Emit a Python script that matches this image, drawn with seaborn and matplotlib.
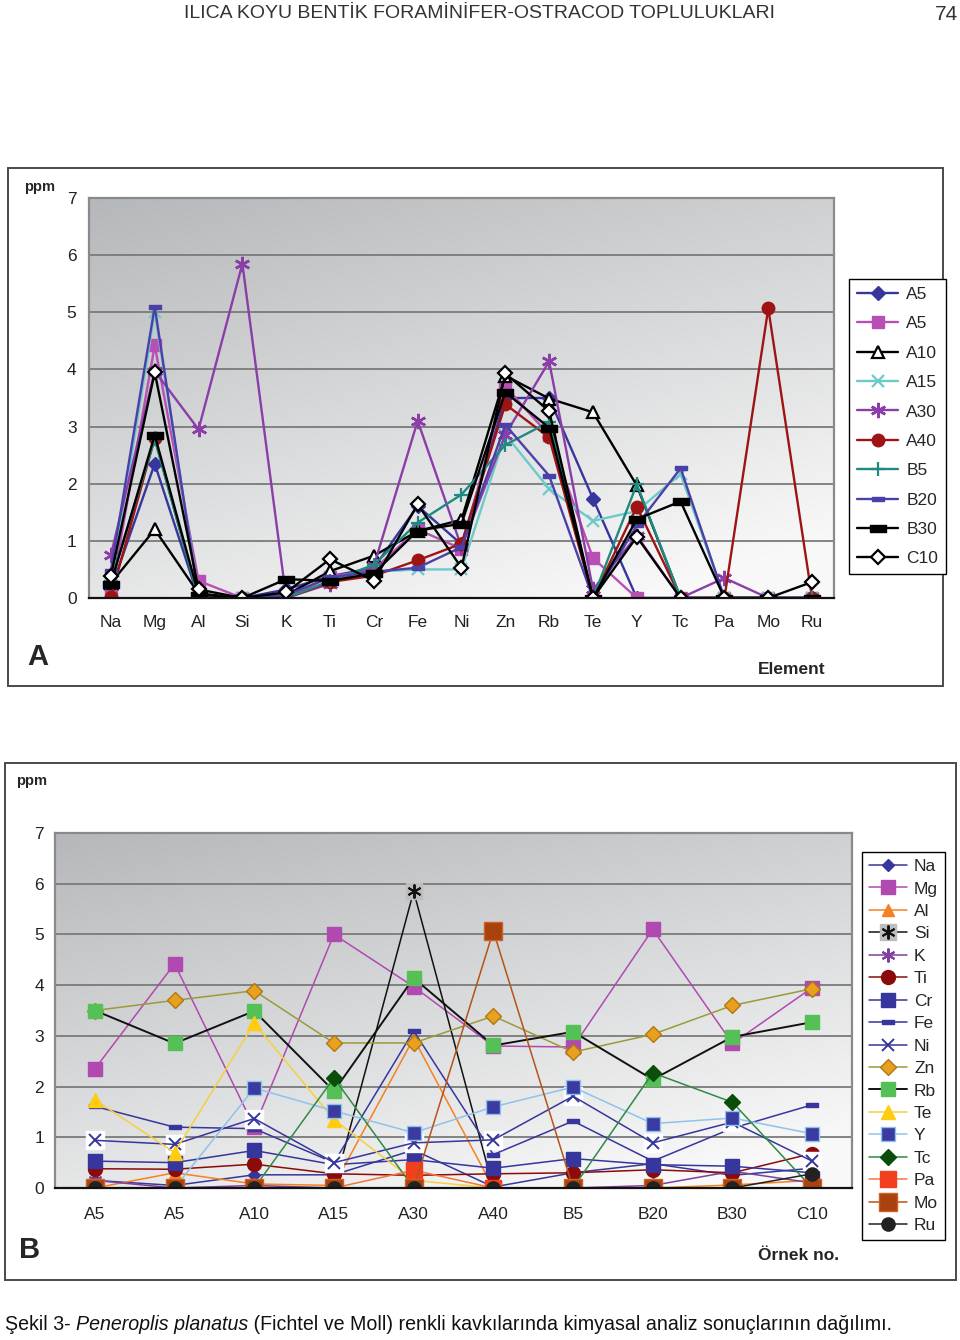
import numpy as np
import pandas as pd
import matplotlib
matplotlib.use("Agg")
import matplotlib.pyplot as plt
import matplotlib.transforms as mtransforms
import seaborn as sns
from matplotlib.lines import Line2D
from matplotlib.patches import Rectangle
from matplotlib.legend_handler import HandlerTuple

sns.set_style("white")
plt.rcParams["font.family"] = ["Liberation Sans", "DejaVu Sans"]

# ---------------- data (ppm) ----------------
samples = ["A5", "A5", "A10", "A15", "A30", "A40", "B5", "B20", "B30", "C10"]
elements = ["Na", "Mg", "Al", "Si", "K", "Ti", "Cr", "Fe", "Ni", "Zn",
            "Rb", "Te", "Y", "Tc", "Pa", "Mo", "Ru"]
yticks = [0, 1, 2, 3, 4, 5, 6, 7]

na = [0.15, 0.05, 0.26, 0.26, 0.75, 0.02, 0.30, 0.48, 0.25, 0.39]
mg = [2.35, 4.42, 1.20, 5.00, 3.97, 2.80, 2.78, 5.10, 2.85, 3.95]
al = [0.00, 0.30, 0.08, 0.05, 2.95, 0.00, 0.00, 0.00, 0.06, 0.15]
si = [0.00, 0.00, 0.00, 0.00, 5.85, 0.00, 0.00, 0.00, 0.00, 0.00]
k = [0.15, 0.00, 0.05, 0.00, 0.00, 0.00, 0.00, 0.05, 0.33, 0.10]
ti = [0.38, 0.37, 0.47, 0.28, 0.25, 0.28, 0.30, 0.36, 0.30, 0.68]
cr = [0.53, 0.50, 0.74, 0.46, 0.56, 0.39, 0.58, 0.46, 0.43, 0.30]
fe = [1.61, 1.20, 1.17, 0.50, 3.10, 0.66, 1.32, 0.53, 1.18, 1.64]
ni = [0.94, 0.86, 1.37, 0.50, 0.89, 0.95, 1.81, 0.89, 1.30, 0.53]
zn = [3.50, 3.70, 3.89, 2.86, 2.86, 3.39, 2.68, 3.03, 3.60, 3.93]
rb = [3.50, 2.85, 3.49, 1.91, 4.14, 2.81, 3.08, 2.14, 2.98, 3.27]
te = [1.74, 0.70, 3.25, 1.35, 0.15, 0.00, 0.00, 0.00, 0.00, 0.00]
y_ = [0.00, 0.00, 1.97, 1.52, 1.09, 1.60, 1.99, 1.27, 1.38, 1.07]
tc = [0.00, 0.00, 0.00, 2.17, 0.00, 0.00, 0.00, 2.27, 1.69, 0.00]
pa = [0.00, 0.00, 0.00, 0.00, 0.35, 0.00, 0.00, 0.00, 0.00, 0.00]
mo = [0.00, 0.00, 0.00, 0.00, 0.00, 5.07, 0.00, 0.00, 0.00, 0.00]
ru = [0.00, 0.00, 0.00, 0.00, 0.00, 0.00, 0.00, 0.00, 0.00, 0.28]

df = pd.DataFrame({"Na": na, "Mg": mg, "Al": al, "Si": si, "K": k, "Ti": ti,
                   "Cr": cr, "Fe": fe, "Ni": ni, "Zn": zn, "Rb": rb, "Te": te,
                   "Y": y_, "Tc": tc, "Pa": pa, "Mo": mo, "Ru": ru})

# ---------------- helpers ----------------
W, H = 960, 1340
fig = plt.figure(figsize=(W / 100, H / 100), dpi=100)


def fx(px):
    return px / W


def fy(py):
    return 1 - py / H


DASH = [(-1, -0.42), (1, -0.42), (1, 0.42), (-1, 0.42), (-1, -0.42)]
ASTER = (6, 2, 0)


def gradient_bg(ax, x0, x1):
    xx, yy = np.meshgrid(np.linspace(0, 1, 300), np.linspace(0, 1, 300))
    d = np.clip(0.72 * yy + 0.38 * (1 - xx) - 0.1, 0, 1)
    dark = np.array([0.71, 0.72, 0.73])
    light = np.array([0.975, 0.975, 0.975])
    img = light[None, None, :] + (dark - light)[None, None, :] * d[..., None]
    ax.imshow(img, extent=(x0, x1, 0, 7), origin="lower", aspect="auto",
              zorder=-5, interpolation="bilinear")


def style_axes(ax, n, labels, lpad, xpad):
    ax.set_xlim(-0.5, n - 0.5)
    ax.set_ylim(0, 7)
    ax.set_yticks(yticks)
    ax.set_xticks(range(n))
    ax.set_xticklabels(labels)
    ax.set_xticks(np.arange(-0.5, n, 1.0), minor=True)
    ax.tick_params(axis="x", which="major", length=0, pad=xpad,
                   labelsize=12.5, labelcolor="#222222")
    ax.tick_params(axis="x", which="minor", length=5, width=1,
                   direction="out", color="#333333")
    ax.tick_params(axis="y", length=0, pad=lpad, labelsize=12.5,
                   labelcolor="#222222")
    ax.yaxis.grid(True, color="#7a7a7a", lw=1.3, zorder=0)
    ax.xaxis.grid(False)
    ax.set_axisbelow(True)
    for s in ["top", "right", "left"]:
        ax.spines[s].set_color("#8a8a8a")
        ax.spines[s].set_linewidth(1.6)
    ax.spines["bottom"].set_color("#111111")
    ax.spines["bottom"].set_linewidth(1.6)
    ax.set_xlabel("")
    ax.set_ylabel("")


def line(ax, x, y, color, marker, ms, mfc=None, mec=None, mew=1.0, lw=1.6,
         z=2, ls="-"):
    sns.lineplot(x=x, y=y, ax=ax, color=color, marker=marker, markersize=ms,
                 markerfacecolor=mfc if mfc is not None else color,
                 markeredgecolor=mec if mec is not None else color,
                 markeredgewidth=mew, linewidth=lw, linestyle=ls,
                 errorbar=None, legend=False, zorder=z)
    return ax.lines[-1]


# ---------------- header ----------------
fig.text(0.5, fy(14), "ILICA KOYU BENTİK FORAMİNİFER-OSTRACOD TOPLULUKLARI",
         ha="center", va="center", fontsize=14, color="#333333")
fig.text(fx(958), fy(14), "74", ha="right", va="center", fontsize=15,
         color="#333333")

# frames
for (x0, y0, x1, y1) in [(8, 168, 943, 686), (5, 763, 956, 1280)]:
    fig.patches.append(Rectangle((fx(x0), fy(y1)), (x1 - x0) / W,
                                 (y1 - y0) / H, transform=fig.transFigure,
                                 fill=False, edgecolor="#4a4a4a", lw=1.4))

# ---------------- chart A ----------------
axA = fig.add_axes([fx(89), fy(598), 745 / W, 400 / H])
gradient_bg(axA, -0.5, len(elements) - 0.5)
xa = np.arange(len(elements))

styleA = [
    dict(color="#36369C", marker="D", ms=7),
    dict(color="#B84FB4", marker="s", ms=8.5),
    dict(color="black", marker="^", ms=8.5, mfc="white", mec="black", mew=1.6),
    dict(color="#6CCACA", marker="x", ms=8, mew=1.6),
    dict(color="#8B3DA8", marker=ASTER, ms=11, mew=1.8),
    dict(color="#9E1414", marker="o", ms=9),
    dict(color="#1F8A80", marker="+", ms=10, mew=1.6),
    dict(color="#4B3FA8", marker=DASH, ms=8),
    dict(color="black", marker=DASH, ms=12),
    dict(color="black", marker="D", ms=7, mfc="white", mec="black", mew=1.6),
]
handlesA = []
for i, st in enumerate(styleA):
    h = line(axA, xa, df.iloc[i].values, st["color"], st["marker"], st["ms"],
             mfc=st.get("mfc"), mec=st.get("mec"), mew=st.get("mew", 1.0),
             lw=1.7, z=2 + i * 0.01)
    handlesA.append(h)
style_axes(axA, len(elements), elements, lpad=9, xpad=12)

legA = fig.legend(handlesA, samples, loc="upper left",
                  bbox_to_anchor=(fx(849), fy(279)),
                  bbox_transform=fig.transFigure, frameon=True, fancybox=False,
                  edgecolor="black", framealpha=1, fontsize=12.5,
                  handlelength=2.4, handletextpad=0.45, labelspacing=0.82,
                  borderpad=0.45, borderaxespad=0)
legA.get_frame().set_linewidth(1.0)

fig.text(fx(40), fy(187), "ppm", ha="center", va="center", fontsize=10.5,
         fontweight="bold")
fig.text(fx(38), fy(657), "A", ha="center", va="center", fontsize=21,
         fontweight="bold")
fig.text(fx(792), fy(670), "Element", ha="center", va="center", fontsize=12.5,
         fontweight="bold")

# ---------------- chart B ----------------
axB = fig.add_axes([fx(55), fy(1188), 797 / W, 355 / H])
gradient_bg(axB, -0.5, len(samples) - 0.5)
xb = np.arange(len(samples))

handlesB = []
lwB = 1.1
h = line(axB, xb, df["Na"], "#36369C", "D", 6.5, lw=lwB, z=2.01); handlesB.append(h)
h = line(axB, xb, df["Mg"], "#B04AB0", "s", 10, lw=lwB, z=2.02); handlesB.append(h)
h = line(axB, xb, df["Al"], "#F58220", "^", 9, lw=lwB, z=2.03); handlesB.append(h)
bg = line(axB, xb, df["Si"], "#111111", "s", 12, mfc="#BDBDBD", mec="#BDBDBD",
          lw=lwB, z=2.04)
fg = line(axB, xb, df["Si"], "#111111", ASTER, 10, mew=1.4, lw=0, z=2.045)
handlesB.append((bg, fg))
h = line(axB, xb, df["K"], "#7E3F9E", ASTER, 10, mew=1.5, lw=lwB, z=2.05); handlesB.append(h)
h = line(axB, xb, df["Ti"], "#8B0A0A", "o", 10, lw=lwB, z=2.06); handlesB.append(h)
h = line(axB, xb, df["Cr"], "#36369C", "s", 10, lw=lwB, z=2.07); handlesB.append(h)
h = line(axB, xb, df["Fe"], "#36369C", DASH, 8, lw=lwB, z=2.08); handlesB.append(h)
line(axB, xb, df["Ni"], "white", "s", 13, lw=0, z=2.085)
h = line(axB, xb, df["Ni"], "#36369C", "x", 9, mew=1.4, lw=lwB, z=2.09); handlesB.append(h)
h = line(axB, xb, df["Zn"], "#9C9A3A", "D", 8, mfc="#E8A020", mec="#B07810",
         lw=lwB, z=2.10); handlesB.append(h)
h = line(axB, xb, df["Rb"], "#111111", "s", 10.5, mfc="#55C055", mec="#55C055",
         lw=1.4, z=2.11); handlesB.append(h)
h = line(axB, xb, df["Te"], "#F5D040", "^", 10, mfc="#FFCC10", mec="#FFCC10",
         lw=lwB, z=2.12); handlesB.append(h)
h = line(axB, xb, df["Y"], "#8FC3EA", "s", 9.5, mfc="#3A3AA0", mec="#8FC3EA",
         lw=lwB, z=2.13); handlesB.append(h)
h = line(axB, xb, df["Tc"], "#2E8B45", "D", 8.5, mfc="#0B4D0B", mec="#0B4D0B",
         lw=lwB, z=2.14); handlesB.append(h)
h = line(axB, xb, df["Pa"], "#F07838", "s", 12, mfc="#F2401E", mec="#F2401E",
         lw=lwB, z=2.15); handlesB.append(h)
h = line(axB, xb, df["Mo"], "#B5531A", "s", 13, mfc="#A8420F", mec="#D06020",
         lw=lwB, z=2.16); handlesB.append(h)
h = line(axB, xb, df["Ru"], "#222222", "o", 9.5, lw=lwB, z=2.17); handlesB.append(h)
style_axes(axB, len(samples), samples, lpad=8, xpad=14)

legB = fig.legend(handlesB, elements, loc="upper left",
                  bbox_to_anchor=(fx(862), fy(852)),
                  bbox_transform=fig.transFigure, frameon=True, fancybox=False,
                  edgecolor="black", framealpha=1, fontsize=12.5,
                  handlelength=2.2, handletextpad=0.4, labelspacing=0.42,
                  borderpad=0.4, borderaxespad=0,
                  handler_map={tuple: HandlerTuple(ndivide=1)})
legB.get_frame().set_linewidth(1.0)

fig.text(fx(32), fy(781), "ppm", ha="center", va="center", fontsize=10.5,
         fontweight="bold")
fig.text(fx(30), fy(1250), "B", ha="center", va="center", fontsize=21,
         fontweight="bold")
fig.text(fx(799), fy(1255), "Örnek no.", ha="center", va="center",
         fontsize=12.5, fontweight="bold")

# ---------------- caption ----------------
renderer = fig.canvas.get_renderer()
runs = [("Şekil 3- ", "normal"), ("Peneroplis planatus", "italic"),
        (" (Fichtel ve Moll) renkli kavkılarında kimyasal analiz sonuçlarının dağılımı.",
         "normal")]
xpos = 5
ypix = H - 1325
for txt, st in runs:
    t = fig.text(xpos, ypix, txt, fontsize=14.1, style=st, ha="left",
                 va="center", transform=mtransforms.IdentityTransform(),
                 color="#111111")
    xpos += t.get_window_extent(renderer).width

fig.savefig("out.png", dpi=100)
